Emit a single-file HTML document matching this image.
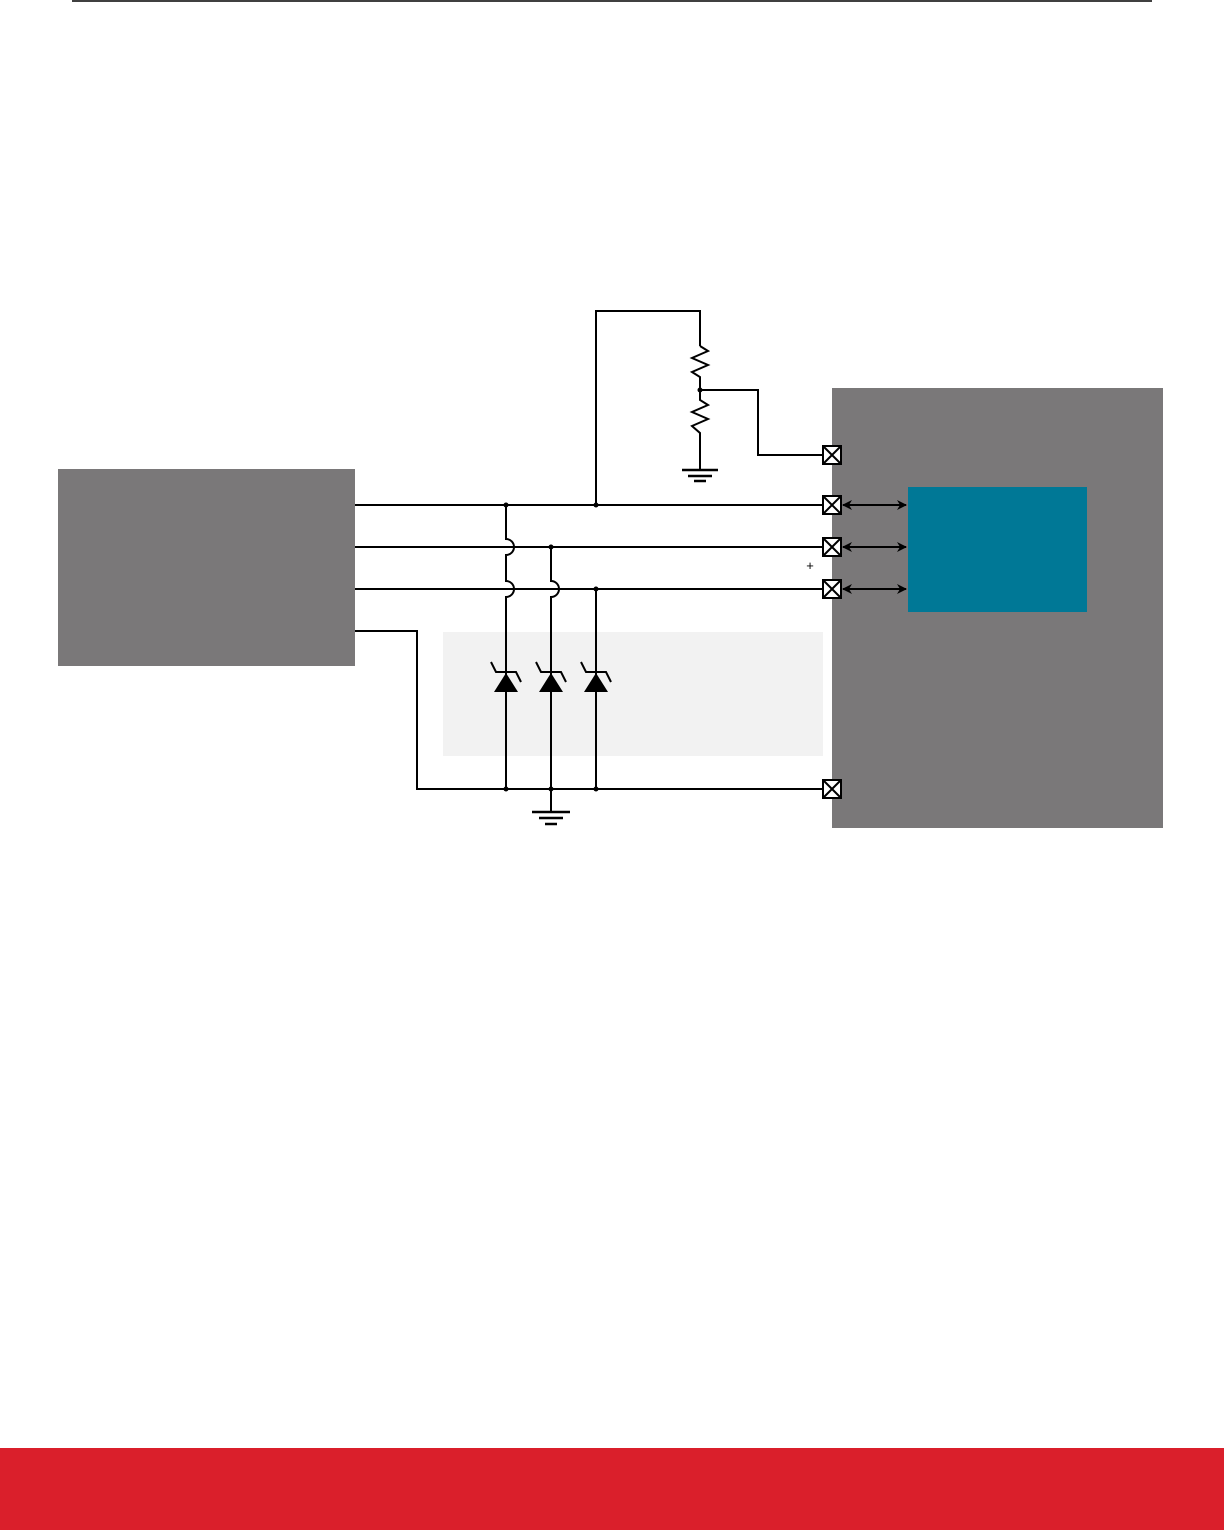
<!DOCTYPE html>
<html><head><meta charset="utf-8"><style>
html,body{margin:0;padding:0;background:#fff;}
body{width:1224px;height:1530px;position:relative;overflow:hidden;font-family:"Liberation Sans",sans-serif;}
</style></head><body>
<svg width="1224" height="1530" viewBox="0 0 1224 1530" style="position:absolute;left:0;top:0">
<defs>
<marker id="ah" markerWidth="10" markerHeight="10" refX="9" refY="5" orient="auto-start-reverse" markerUnits="userSpaceOnUse">
<path d="M0,0 L10,5 L0,10 L3,5 Z" fill="#000"/></marker>
</defs>
<line x1="72" y1="1" x2="1152" y2="1" stroke="#000" stroke-width="1.5"/>
<rect x="58" y="469" width="297" height="197" fill="#7a7879"/>
<rect x="832" y="388" width="331" height="440" fill="#7a7879"/>
<rect x="908" y="487" width="179" height="125" fill="#007896"/>
<rect x="443" y="632" width="380" height="124" fill="#f2f2f2"/>
<g stroke="#000" stroke-width="2" fill="none">
<!-- horizontal lines -->
<line x1="355" y1="505" x2="823" y2="505"/>
<line x1="355" y1="547" x2="823" y2="547"/>
<line x1="355" y1="589" x2="823" y2="589"/>
<polyline points="355,631 417,631 417,789 823,789"/>
<!-- verticals with hops -->
<path d="M506,505 V539 A8,8 0 0 1 506,555 V581 A8,8 0 0 1 506,597 V789"/>
<path d="M551,547 V581 A8,8 0 0 1 551,597 V789"/>
<path d="M596,589 V789"/>
<!-- ground at bottom -->
<line x1="551" y1="789" x2="551" y2="812"/>
<line x1="532" y1="812" x2="570" y2="812" stroke-width="2.5"/>
<line x1="539" y1="818" x2="563" y2="818" stroke-width="2.5"/>
<line x1="545" y1="824" x2="557" y2="824" stroke-width="2.5"/>
<!-- top supply and resistors -->
<polyline points="596,505 596,311 700,311 700,346"/>
<polyline points="700,346 708,351 692,358 708,365 692,372 700,377 700,400 708,405 692,412 708,419 692,426 700,433 700,470"/>
<line x1="682" y1="470" x2="718" y2="470" stroke-width="2.5"/>
<line x1="688" y1="476" x2="712" y2="476" stroke-width="2.5"/>
<line x1="694" y1="481" x2="706" y2="481" stroke-width="2.5"/>
<polyline points="700,390 758,390 758,455 823,455"/>
<!-- arrows -->
<line x1="843" y1="505" x2="906" y2="505" marker-start="url(#ah)" marker-end="url(#ah)"/>
<line x1="843" y1="547" x2="906" y2="547" marker-start="url(#ah)" marker-end="url(#ah)"/>
<line x1="843" y1="589" x2="906" y2="589" marker-start="url(#ah)" marker-end="url(#ah)"/>
</g>
<!-- junction dots -->
<g fill="#000">
<circle cx="506" cy="505" r="2.5"/><circle cx="596" cy="505" r="2.5"/>
<circle cx="551" cy="547" r="2.5"/><circle cx="596" cy="589" r="2.5"/>
<circle cx="506" cy="789" r="2.5"/><circle cx="551" cy="789" r="2.5"/><circle cx="596" cy="789" r="2.5"/>
<circle cx="700" cy="390" r="2.5"/>
</g>
<!-- zener diodes -->
<g>
<g transform="translate(506,0)"><polygon points="-12,692 12,692 0,673" fill="#000"/><path d="M-15,662 L-10,672 H10 L15,682" stroke="#000" stroke-width="2" fill="none"/></g>
<g transform="translate(551,0)"><polygon points="-12,692 12,692 0,673" fill="#000"/><path d="M-15,662 L-10,672 H10 L15,682" stroke="#000" stroke-width="2" fill="none"/></g>
<g transform="translate(596,0)"><polygon points="-12,692 12,692 0,673" fill="#000"/><path d="M-15,662 L-10,672 H10 L15,682" stroke="#000" stroke-width="2" fill="none"/></g>
</g>
<!-- pins -->
<g stroke="#000" stroke-width="2" fill="#fff">
<g transform="translate(832,455)"><rect x="-9" y="-9" width="18" height="18"/><path d="M-9,-9 L9,9 M9,-9 L-9,9"/></g>
<g transform="translate(832,505)"><rect x="-9" y="-9" width="18" height="18"/><path d="M-9,-9 L9,9 M9,-9 L-9,9"/></g>
<g transform="translate(832,547)"><rect x="-9" y="-9" width="18" height="18"/><path d="M-9,-9 L9,9 M9,-9 L-9,9"/></g>
<g transform="translate(832,589)"><rect x="-9" y="-9" width="18" height="18"/><path d="M-9,-9 L9,9 M9,-9 L-9,9"/></g>
<g transform="translate(832,789)"><rect x="-9" y="-9" width="18" height="18"/><path d="M-9,-9 L9,9 M9,-9 L-9,9"/></g>
</g>
<text x="810" y="570" font-size="13" text-anchor="middle" font-family="Liberation Sans, sans-serif">+</text>
<rect x="0" y="1448" width="1224" height="82" fill="#da1f2b"/>
</svg>
</body></html>
